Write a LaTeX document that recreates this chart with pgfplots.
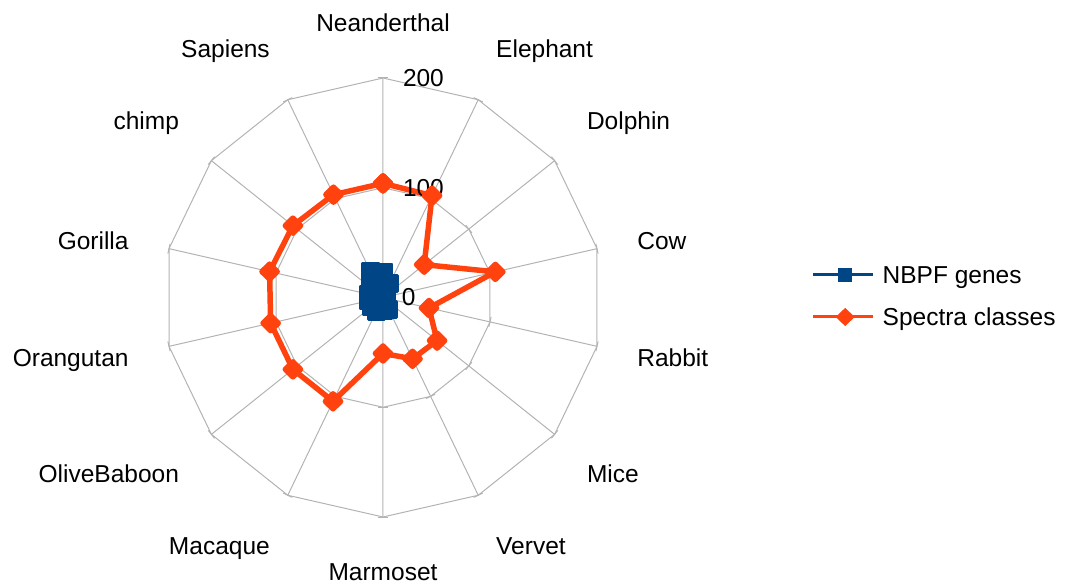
\documentclass[border=0pt]{standalone}
\usepackage{pgfplots}
\pgfplotsset{compat=1.18}
\usepgfplotslibrary{polar}
\usepackage{fontspec}
\setmainfont{Liberation Sans}
\definecolor{nbpf}{HTML}{004586}
\definecolor{spec}{HTML}{FF420E}
\definecolor{gridgray}{HTML}{B3B3B3}
\tikzset{lab/.style={font=\fontsize{24.5}{29}\selectfont, inner sep=0pt, outer sep=0pt, text height=22.2pt, text depth=5.2pt}}
\begin{document}
\begin{tikzpicture}
\begin{polaraxis}[
  scale only axis, width=439pt, height=439pt,
  xmin=-270, xmax=90, ymin=0, ymax=200,
  clip=false,
  axis line style={draw=none},
  xtick={-270,-244.286,-218.571,-192.857,-167.143,-141.429,-115.714,-90,-64.286,-38.571,-12.857,12.857,38.571,64.286},
  xticklabels={}, ytick={0,100,200}, yticklabels={},
  major tick length=0pt,
  xmajorgrids=true, ymajorgrids=false,
  major x grid style={gridgray, line width=1pt},
  legend style={draw=none, fill=none, inner sep=0pt, outer sep=0pt,
    at={(axis description cs:1.4765,0.5825)}, anchor=north west,
    row sep=14.6pt, column sep=8pt,
    nodes={lab}},
  legend cell align=left,
  legend image code/.code={
    \draw[#1, mark repeat=2, mark phase=2] plot coordinates {(0pt,0pt) (32pt,0pt) (60pt,0pt)};
  },
]
\addlegendimage{nbpf, line width=3pt, mark=square*, mark size=5.5pt, mark options={solid}}
\addlegendimage{spec, line width=3pt, mark=diamond*, mark size=7pt, mark options={solid, xscale=1.4}}
% grid rings
\addplot[gridgray, line width=1pt, no marks, forget plot] coordinates {
(90,200) (64.286,200) (38.571,200) (12.857,200) (-12.857,200) (-38.571,200) (-64.286,200) (-90,200) (-115.714,200) (-141.429,200) (-167.143,200) (-192.857,200) (-218.571,200) (-244.286,200) (-270,200)};
\addplot[gridgray, line width=1pt, no marks, forget plot] coordinates {
(90,100) (64.286,100) (38.571,100) (12.857,100) (-12.857,100) (-38.571,100) (-64.286,100) (-90,100) (-115.714,100) (-141.429,100) (-167.143,100) (-192.857,100) (-218.571,100) (-244.286,100) (-270,100)};
% tick marks at ring vertices
\pgfplotsinvokeforeach{90,64.286,38.571,12.857,-12.857,-38.571,-64.286,-90,-115.714,-141.429,-167.143,-192.857,-218.571,-244.286}{
  \addplot[only marks, forget plot, mark=-, mark size=5pt, mark options={gridgray, line width=1pt, rotate=#1-90}] coordinates {(#1,100) (#1,200)};
}
\addplot[nbpf, forget plot, line width=3.5pt, line join=round, mark=square*, mark size=8pt, mark options={solid}] coordinates {
(90,23) (64.286,14) (38.571,4) (12.857,3) (-12.857,3) (-38.571,4) (-64.286,12) (-90,12) (-115.714,14) (-141.429,13) (-167.143,13) (-192.857,13) (-218.571,14) (-244.286,26) (-270,23)};
\addplot[spec, forget plot, line width=5.5pt, line join=round, mark=diamond*, mark size=7.5pt, mark options={solid, xscale=1.35}] coordinates {
(90,104) (64.286,103) (38.571,48) (12.857,105) (-12.857,43) (-38.571,63) (-64.286,62) (-90,51) (-115.714,105) (-141.429,105) (-167.143,105) (-192.857,106) (-218.571,105) (-244.286,104) (-270,104)};
\legend{NBPF genes, Spectra classes}
% category labels
\node[lab, anchor=south] at (axis cs:90,237.8) {Neanderthal};
\node[lab, anchor=south west] at (axis cs:64.286,237.8) {Elephant};
\node[lab, anchor=south west] at (axis cs:38.571,237.8) {Dolphin};
\node[lab, anchor=west, yshift=-2pt] at (axis cs:12.857,237.8) {Cow};
\node[lab, anchor=west, yshift=-2pt] at (axis cs:-12.857,237.8) {Rabbit};
\node[lab, anchor=north west] at (axis cs:-38.571,237.8) {Mice};
\node[lab, anchor=north west] at (axis cs:-64.286,237.8) {Vervet};
\node[lab, anchor=north] at (axis cs:-90,237.8) {Marmoset};
\node[lab, anchor=north east] at (axis cs:-115.714,237.8) {Macaque};
\node[lab, anchor=north east] at (axis cs:-141.429,237.8) {OliveBaboon};
\node[lab, anchor=east, yshift=-2pt] at (axis cs:-167.143,237.8) {Orangutan};
\node[lab, anchor=east, yshift=-2pt] at (axis cs:-192.857,237.8) {Gorilla};
\node[lab, anchor=south east] at (axis cs:-218.571,237.8) {chimp};
\node[lab, anchor=south east] at (axis cs:-244.286,237.8) {Sapiens};
% radial value labels
\node[lab, anchor=west, xshift=19pt] at (axis cs:90,0) {0};
\node[lab, anchor=west, xshift=20pt] at (axis cs:90,100) {100};
\node[lab, anchor=west, xshift=20pt] at (axis cs:90,200) {200};
\coordinate (C) at (axis cs:0,0);
\end{polaraxis}
\pgfresetboundingbox
\path[use as bounding box] (C) ++(-383pt,297.5pt) rectangle ++(1075pt,-588pt);
\end{tikzpicture}
\end{document}
